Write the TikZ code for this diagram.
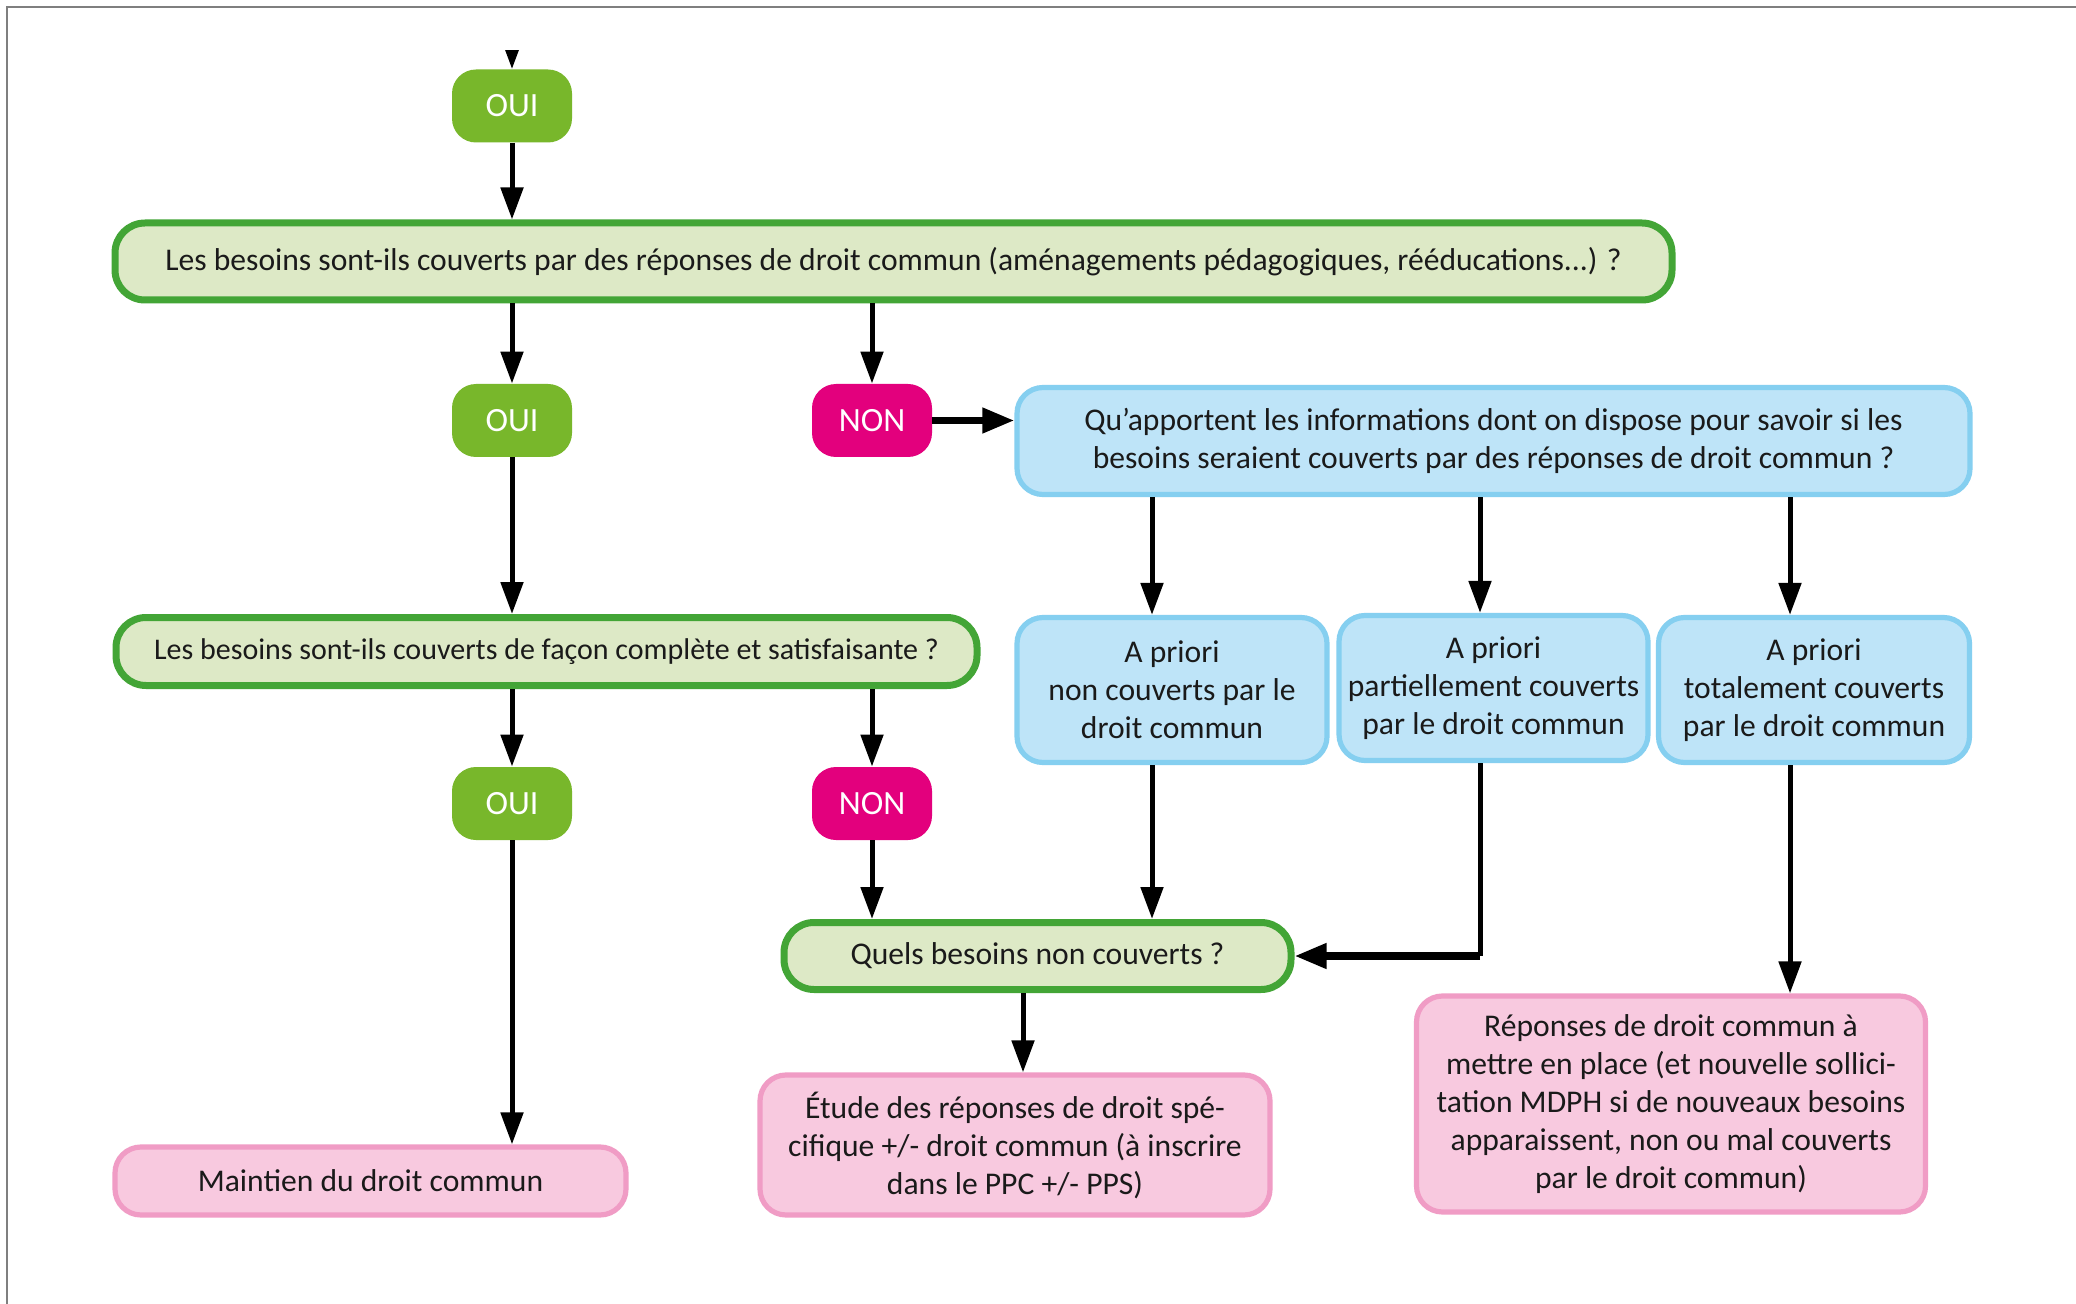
\documentclass[tikz,border=0pt]{standalone}
\usepackage{fontspec}
\setmainfont{Carlito}
\usetikzlibrary{arrows.meta}
\definecolor{gbord}{HTML}{43A536}
\definecolor{gfill}{HTML}{DDE9C6}
\definecolor{ouig}{HTML}{78B72B}
\definecolor{nonm}{HTML}{E3007D}
\definecolor{bbord}{HTML}{85CFF0}
\definecolor{bfill}{HTML}{BEE4F8}
\definecolor{pbord}{HTML}{F09CC5}
\definecolor{pfill}{HTML}{F8C9DF}
\definecolor{framegrey}{HTML}{7F7F7F}
\definecolor{txt}{HTML}{1A1A1A}
\tikzset{
  boxtext/.style={font=\fontsize{15.8}{19}\selectfont, text=txt, align=center, inner sep=0pt},
  greenq/.style={boxtext, draw=gbord, fill=gfill, line width=3.5pt, rounded corners=15pt},
  bluebox/.style={boxtext, draw=bbord, fill=bfill, line width=2.6pt, rounded corners=13pt},
  pinkbox/.style={boxtext, draw=pbord, fill=pfill, line width=2.6pt, rounded corners=13pt},
  ouibox/.style={fill=ouig, text=white, font=\fontsize{17}{20}\selectfont, rounded corners=12pt,
     minimum width=60pt, minimum height=36.5pt, inner sep=0pt},
  nonbox/.style={ouibox, fill=nonm},
  arr/.style={draw=black, line width=2.5pt, -{Triangle[length=16pt,width=11pt]}},
  arrh/.style={arr, line width=3.6pt, -{Triangle[length=16pt,width=12pt]}},
}
\begin{document}
\begin{tikzpicture}[x=0.5pt,y=-0.5pt]
\useasboundingbox (0,0) rectangle (2076,1304);
\fill[white] (0,0) rectangle (2076,1304);
\draw[framegrey, line width=0.7pt] (7,1304) -- (7,7) -- (2076,7);

% nodes
\node[ouibox] (oui1) at (512,106) {OUI};
\node[greenq, minimum width=778.5pt, minimum height=38.5pt] (q1) at (893.5,261.5)
  {Les besoins sont-ils couverts par des réponses de droit commun (aménagements pédagogiques, rééducations...) ?};
\node[ouibox] (oui2) at (512,420.5) {OUI};
\node[nonbox] (non1) at (872,420.5) {NON};
\node[bluebox, minimum width=476.5pt, minimum height=53.5pt] (info) at (1493.5,441)
  {Qu’apportent les informations dont on dispose pour savoir si les\\besoins seraient couverts par des réponses de droit commun ?};
\node[bluebox, minimum width=155pt, minimum height=72.5pt] (a1) at (1172,690)
  {A priori\\non couverts par le\\droit commun};
\node[bluebox, minimum width=154.5pt, minimum height=72.5pt] (a2) at (1493.5,688)
  {A priori\\partiellement couverts\\par le droit commun};
\node[bluebox, minimum width=155.5pt, minimum height=72.5pt] (a3) at (1814,690)
  {A priori\\totalement couverts\\par le droit commun};
\node[greenq, minimum width=430.5pt, minimum height=34pt, font=\fontsize{15}{19}\selectfont] (q2) at (546.5,651.5)
  {Les besoins sont-ils couverts de façon complète et satisfaisante ?};
\node[ouibox] (oui3) at (512,803.5) {OUI};
\node[nonbox] (non2) at (872,803.5) {NON};
\node[pinkbox, minimum width=255.5pt, minimum height=34pt] (maint) at (370.5,1181)
  {Maintien du droit commun};
\node[greenq, minimum width=253.5pt, minimum height=33.5pt] (quels) at (1037.5,956)
  {Quels besoins non couverts ?};
\node[pinkbox, minimum width=255pt, minimum height=70pt] (etude) at (1015,1145)
  {Étude des réponses de droit spé-\\cifique +/- droit commun (à inscrire\\dans le PPC +/- PPS)};
\node[pinkbox, minimum width=254.5pt, minimum height=108pt] (rep) at (1671,1104)
  {Réponses de droit commun à\\mettre en place (et nouvelle sollici-\\tation MDPH si de nouveaux besoins\\apparaissent, non ou mal couverts\\par le droit commun)};

% column coordinates
\coordinate (top) at (512,20);
\coordinate (c1) at (1152,0);
\coordinate (c2) at (1480,0);
\coordinate (c3) at (1790,0);
\coordinate (c5) at (1023,0);

% connectors
\begin{scope}
\clip (0,51) rectangle (2076,1304);
\draw[arr] (top) -- (oui1.north);
\end{scope}
\draw[arr] (oui1.south) -- (oui1.south |- q1.north);
\draw[arr] (q1.south -| oui2) -- (oui2.north);
\draw[arr] (q1.south -| non1) -- (non1.north);
\draw[arrh] (non1.east) -- (info.west |- non1.east);
\draw[arr] (info.south -| c1) -- (a1.north -| c1);
\draw[arr] (info.south -| c2) -- (a2.north -| c2);
\draw[arr] (info.south -| c3) -- (a3.north -| c3);
\draw[arr] (oui2.south) -- (q2.north -| oui2);
\draw[arr] (q2.south -| oui3) -- (oui3.north);
\draw[arr] (q2.south -| non2) -- (non2.north);
\draw[arr] (oui3.south) -- (maint.north -| oui3);
\draw[arr] (non2.south) -- (quels.north -| non2);
\draw[arr] (a1.south -| c1) -- (quels.north -| c1);
\draw[arr, -] (a2.south -| c2) -- (c2 |- quels.east);
\draw[arrh] (c2 |- quels.east) -- (quels.east);
\draw[arr] (quels.south -| c5) -- (etude.north -| c5);
\draw[arr] (a3.south -| c3) -- (rep.north -| c3);
\end{tikzpicture}
\end{document}
